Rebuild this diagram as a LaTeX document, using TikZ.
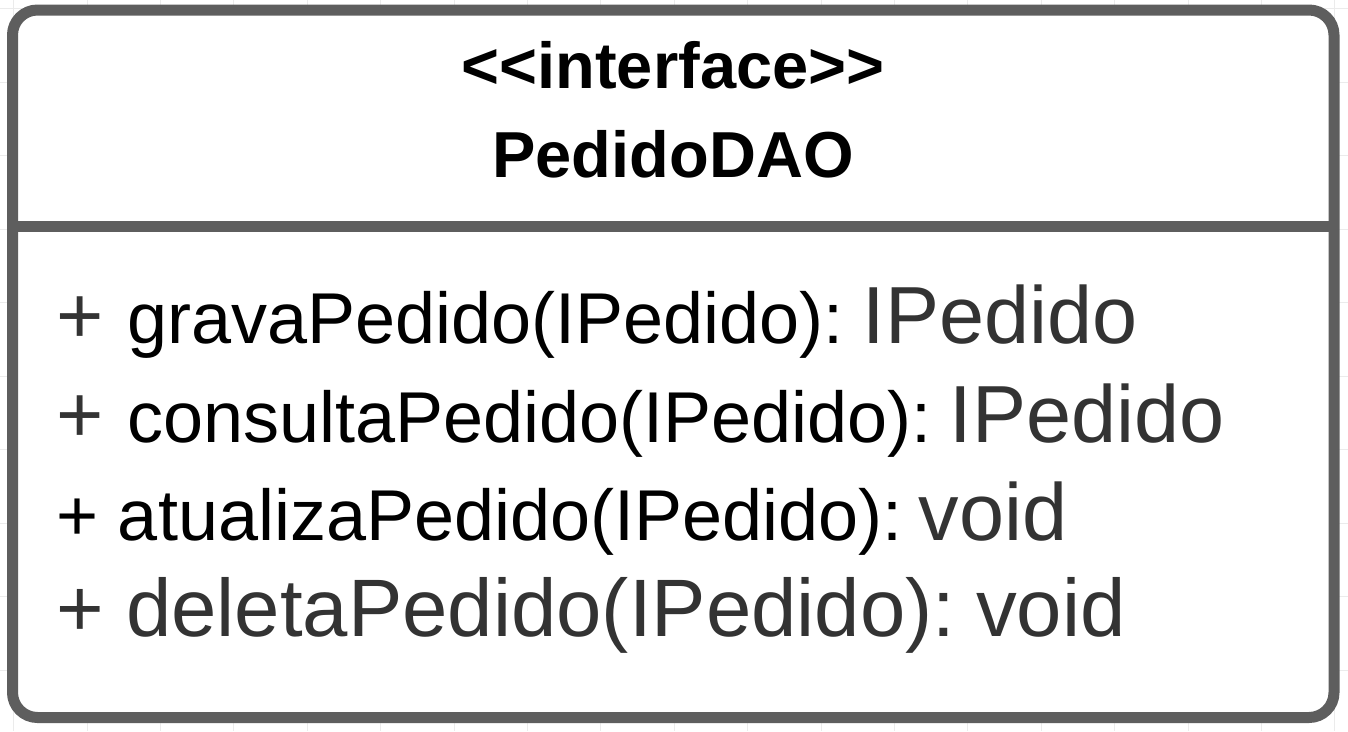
\documentclass[tikz,border=0pt]{standalone}
\usepackage{fontspec}
\setmainfont{Liberation Sans}
\definecolor{boxgray}{HTML}{5E5E5E}
\definecolor{txtgray}{HTML}{333333}
\definecolor{gridgray}{HTML}{EBEBEB}
\newcommand{\hdfont}{\fontsize{65}{78}\selectfont\bfseries}
\newcommand{\bigf}{\fontsize{81}{96}\selectfont}
\newcommand{\bigff}{\fontsize{81.5}{96}\selectfont}
\newcommand{\midf}{\fontsize{72}{86}\selectfont}
\tikzset{
  member/.style={anchor=base west, inner sep=0pt, outer sep=0pt},
  header/.style={anchor=base, inner sep=0pt, outer sep=0pt, font=\hdfont},
  frame/.style={draw=boxgray, line width=11pt, fill=white, rounded corners=25pt},
  sepline/.style={draw=boxgray, line width=11pt},
  gridline/.style={draw=gridgray, line width=1pt}
}
\begin{document}
\begin{tikzpicture}[x=1pt,y=-1pt]
\useasboundingbox (0,0) rectangle (1348,731);
\fill[white] (0,0) rectangle (1348,731);
% background grid
\foreach \k in {0,...,18} {
  \draw[gridline] ({13.6+73.4*\k},0) -- ({13.6+73.4*\k},731);
}
\foreach \k in {0,...,9} {
  \draw[gridline] (0,{8.5+73.5*\k}) -- (1348,{8.5+73.5*\k});
}
% class box
\coordinate (tl) at (12.5,10);
\coordinate (br) at (1334,717.5);
\coordinate (sepL) at (12.5,226.5);
\coordinate (sepR) at (1334,226.5);
\draw[frame] (tl) rectangle (br);
\draw[sepline] (sepL) -- (sepR);
% header
\node[header] (stereo) at (673,88) {<{}<interface>{}>};
\node[header] (cname) at (673,177) {PedidoDAO};
% members
\node[member] (m1) at (56,343) {\color{txtgray}\bigf +\hspace{24pt}\color{black}\midf gravaPedido(IPedido):\hspace{19pt}\color{txtgray}\bigf IPedido};
\node[member] (m2) at (56,442) {\color{txtgray}\bigf +\hspace{24pt}\color{black}\midf consultaPedido(IPedido):\hspace{18pt}\color{txtgray}\bigf IPedido};
\node[member] (m3) at (56,540) {\color{black}\midf + atualizaPedido(IPedido):\hspace{16pt}\color{txtgray}\bigf void};
\node[member] (m4) at (56,636) {\color{txtgray}\bigff + deletaPedido(IPedido):\hspace{21pt}void};
\end{tikzpicture}
\end{document}
